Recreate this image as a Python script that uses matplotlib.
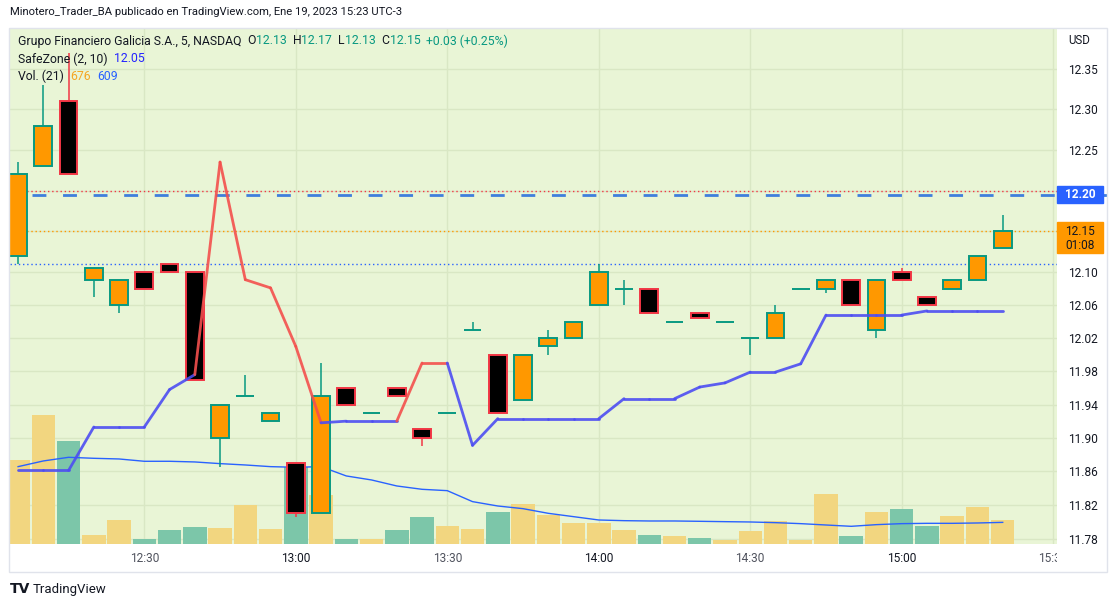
# Grupo Financiero Galicia (GGAL), velas de 5 minutos, estilo captura de TradingView
import matplotlib
matplotlib.use('Agg')
import matplotlib.pyplot as plt
from matplotlib.patches import Rectangle
from matplotlib.ticker import FixedLocator, NullLocator, FormatStrFormatter

plt.rcParams['font.family'] = ['Roboto', 'DejaVu Sans']

# ---- datos ----
times = ['12:05', '12:10', '12:15', '12:20', '12:25', '12:30', '12:35', '12:40',
         '12:45', '12:50', '12:55', '13:00', '13:05', '13:10', '13:15', '13:20',
         '13:25', '13:30', '13:35', '13:40', '13:45', '13:50', '13:55', '14:00',
         '14:05', '14:10', '14:15', '14:20', '14:25', '14:30', '14:35', '14:40',
         '14:45', '14:50', '14:55', '15:00', '15:05', '15:10', '15:15', '15:20']
opens = [12.12, 12.23, 12.31, 12.09, 12.06, 12.10, 12.11, 12.10,
         11.90, 11.95, 11.92, 11.87, 11.81, 11.96, 11.93, 11.96,
         11.91, 11.93, 12.03, 12.00, 11.945, 12.01, 12.02, 12.06,
         12.08, 12.08, 12.04, 12.05, 12.04, 12.02, 12.02, 12.08,
         12.08, 12.09, 12.03, 12.10, 12.07, 12.08, 12.09, 12.13]
highs = [12.235, 12.33, 12.37, 12.105, 12.09, 12.10, 12.11, 12.10,
         11.94, 11.975, 11.93, 11.87, 11.99, 11.96, 11.93, 11.96,
         11.91, 11.93, 12.04, 12.00, 12.00, 12.03, 12.04, 12.11,
         12.09, 12.08, 12.04, 12.05, 12.04, 12.02, 12.06, 12.08,
         12.09, 12.09, 12.09, 12.105, 12.07, 12.09, 12.12, 12.17]
lows = [12.11, 12.23, 12.22, 12.07, 12.05, 12.08, 12.10, 11.97,
        11.865, 11.95, 11.92, 11.805, 11.81, 11.94, 11.93, 11.95,
        11.89, 11.93, 12.03, 11.93, 11.945, 12.00, 12.02, 12.06,
        12.06, 12.05, 12.04, 12.045, 12.04, 12.00, 12.02, 12.08,
        12.075, 12.06, 12.02, 12.09, 12.06, 12.08, 12.09, 12.13]
closes = [12.22, 12.28, 12.22, 12.105, 12.09, 12.08, 12.10, 11.97,
          11.94, 11.95, 11.93, 11.81, 11.95, 11.94, 11.93, 11.95,
          11.90, 11.93, 12.03, 11.93, 12.00, 12.02, 12.04, 12.10,
          12.08, 12.05, 12.04, 12.045, 12.04, 12.02, 12.05, 12.08,
          12.09, 12.06, 12.09, 12.09, 12.06, 12.09, 12.12, 12.15]
volumes = [2367, 3634, 2902, 254, 676, 141, 394, 479,
           451, 1099, 423, 2179, 1380, 141, 141, 394,
           761, 507, 423, 901, 1127, 817, 592, 592,
           394, 254, 225, 169, 113, 366, 648, 113,
           1409, 225, 901, 986, 507, 789, 1042, 676]
vol_ma = [2178, 2338, 2441, 2413, 2394, 2329, 2329, 2310,
          2263, 2225, 2178, 2160, 2178, 1916, 1803, 1634,
          1540, 1502, 1193, 1070, 995, 864, 770, 676,
          657, 648, 648, 639, 629, 620, 601, 573,
          535, 498, 545, 573, 582, 582, 592, 609]
safezone = [11.861, 11.861, 11.861, 11.913, 11.913, 11.913, 11.958, 11.976,
            12.235, 12.091, 12.081, 12.010, 11.918, 11.920, 11.920, 11.920,
            11.990, 11.990, 11.891, 11.923, 11.923, 11.923, 11.923, 11.923,
            11.947, 11.947, 11.947, 11.961, 11.966, 11.979, 11.979, 11.989,
            12.048, 12.048, 12.048, 12.048, 12.053, 12.053, 12.053, 12.053]
safezone_short = [i in (8, 9, 10, 11, 12, 16, 17) for i in range(len(times))]

time_labels = ['12:30', '13:00', '13:30', '14:00', '14:30', '15:00', '15:30']
price_labels = [11.78, 11.82, 11.86, 11.90, 11.94, 11.98, 12.02, 12.06, 12.10,
                12.25, 12.30, 12.35]
grid_levels = price_labels + [12.15, 12.20]
ray_price = 12.195      # linea horizontal dibujada (etiqueta 12.20)
ray_start = 0.55
last_price = 12.15
prev_close_dot = 12.20
blue_dot = 12.11

# ---- colores ----
BG = '#e9f5d6'
GRID = '#d9e7c4'
UP_FACE, UP_EDGE = '#ff9800', '#089981'
DN_FACE, DN_EDGE = '#000000', '#f23645'
VOL_UP, VOL_DN = '#f2d680', '#7cc6a9'
TXT = '#131722'
TEAL = '#089981'

W, H = 1117, 607


def fx(px):
    return px / W


def fy(py):
    return 1 - py / H


def minutos(t):
    h, m = t.split(':')
    return int(h) * 60 + int(m)


t0 = minutos(times[0])
x = [(minutos(t) - t0) / 5 for t in times]
tick_x = [(minutos(t) - t0) / 5 for t in time_labels]

fig = plt.figure(figsize=(W / 100, H / 100), dpi=100)
pos = [fx(10), fy(544), fx(1057) - fx(10), fy(29) - fy(544)]
xlim = (-0.32, 41.15)
ylim = (11.7735, 12.400)

# capa de fondo: grilla
ax_bg = fig.add_axes(pos)
ax_bg.set_facecolor(BG)
ax_bg.set_yscale('log')
ax_bg.set_xlim(*xlim)
ax_bg.set_ylim(*ylim)
ax_bg.yaxis.set_major_locator(FixedLocator(grid_levels))
ax_bg.yaxis.set_minor_locator(NullLocator())
ax_bg.xaxis.set_major_locator(FixedLocator(tick_x))
ax_bg.grid(True, color=GRID, lw=1)
ax_bg.tick_params(length=0, labelleft=False, labelbottom=False)
for s in ax_bg.spines.values():
    s.set_visible(False)

# capa de volumen
ax_vol = fig.add_axes(pos, sharex=ax_bg)
ax_vol.patch.set_alpha(0)
vcol = [VOL_UP if c >= o else VOL_DN for o, c in zip(opens, closes)]
ax_vol.bar(x, volumes, width=0.93, color=vcol, linewidth=0)
ax_vol.plot(x, vol_ma, color='#2962ff', lw=1)
ax_vol.set_ylim(0, 14500)
ax_vol.axis('off')

# capa de precio
ax = fig.add_axes(pos, sharex=ax_bg)
ax.patch.set_alpha(0)
ax.set_yscale('log')

up = [c >= o for o, c in zip(opens, closes)]
face = [UP_FACE if u else DN_FACE for u in up]
edge = [UP_EDGE if u else DN_EDGE for u in up]
bottoms = [min(o, c) for o, c in zip(opens, closes)]
heights = [abs(c - o) for o, c in zip(opens, closes)]
ax.vlines(x, lows, highs, colors=edge, lw=1.1, zorder=3)
ax.bar(x, heights, width=0.7, bottom=bottoms, color=face, edgecolor=edge,
       linewidth=1.4, zorder=4)

for i in range(1, len(x)):
    col = '#f4504d' if safezone_short[i] else '#4d4df2'
    ax.plot([x[i - 1], x[i]], [safezone[i - 1], safezone[i]], color=col,
            lw=2, alpha=0.9, solid_capstyle='round', zorder=5)

ax.axhline(prev_close_dot, color='#f23645', lw=1, ls=(0, (1, 2)), zorder=2)
ax.axhline(last_price, color='#ff9800', lw=1, ls=(0, (1, 2)), zorder=2)
ax.axhline(blue_dot, color='#2962ff', lw=1, ls=(0, (1, 2)), zorder=2)
ax.plot([ray_start, xlim[1] + 2], [ray_price, ray_price], color='#3f7fdc', lw=2,
        ls=(0, (5, 6)), zorder=2, clip_on=False)

ax.set_xlim(*xlim)
ax.set_ylim(*ylim)
ax.yaxis.tick_right()
ax.yaxis.set_major_locator(FixedLocator(price_labels))
ax.yaxis.set_minor_locator(NullLocator())
ax.yaxis.set_major_formatter(FormatStrFormatter('%.2f'))
ax.set_xticks(tick_x, time_labels)
ax.tick_params(axis='y', length=0, pad=8, labelsize=8.6, labelcolor=TXT)
ax.tick_params(axis='x', length=0, pad=6, labelsize=8.6)
for lbl in ax.get_xticklabels():
    # las horas en punto se ven mas oscuras
    lbl.set_color(TXT if lbl.get_text().endswith(':00') else '#50535e')
for s in ax.spines.values():
    s.set_visible(False)

# la ultima hora queda cortada por la escala de precios
clip = Rectangle((0, 0), fx(1057), 1, transform=fig.transFigure)
lbl = ax.get_xticklabels()[-1]
lbl.set_clip_on(True)
lbl.set_clip_path(clip)

# marco
fig.add_artist(Rectangle((fx(9), fy(572)), fx(1107) - fx(9), fy(28) - fy(572),
                         transform=fig.transFigure, fill=False,
                         edgecolor='#e0e3eb', lw=1))


# etiquetas de precio en la escala
def py_of(price):
    return H - ax.transData.transform((0, price))[1]


yr = py_of(ray_price)
fig.add_artist(Rectangle((fx(1057), fy(yr + 8.5)), fx(46), 17 / H,
                         transform=fig.transFigure, color='#2962ff'))
fig.text(fx(1080), fy(yr), '12.20', color='white', fontsize=8.6,
         fontweight='bold', ha='center', va='center')
yl = py_of(last_price)
fig.add_artist(Rectangle((fx(1057), fy(yl + 22)), fx(46), 31 / H,
                         transform=fig.transFigure, color='#ff9800'))
fig.text(fx(1080), fy(yl), f'{last_price:.2f}', color=TXT, fontsize=8.6,
         ha='center', va='center')
fig.text(fx(1080), fy(yl + 14), '01:08', color=TXT, fontsize=8.6,
         ha='center', va='center')
fig.text(fx(1068), fy(41), 'USD', color=TXT, fontsize=8.3, va='center')

# textos superiores
fig.text(fx(10), fy(12), 'Minotero_Trader_BA publicado en TradingView.com, '
         'Ene 19, 2023 15:23 UTC-3', color=TXT, fontsize=8.1, va='center')


def fila(px, py, partes, size=8.8):
    t = fig.text(fx(px), fy(py), partes[0][0], color=partes[0][1],
                 fontsize=size, va='center')
    for texto, col, gap in partes[1:]:
        t = ax.annotate(texto, xy=(1, 0.5), xycoords=t, xytext=(gap, 0),
                        textcoords='offset points', color=col, fontsize=size,
                        va='center', ha='left', annotation_clip=False)


fila(18, 41, [('Grupo Financiero Galicia S.A., 5, NASDAQ', TXT),
              ('O', TXT, 4), ('12.13', TEAL, 0), ('H', TXT, 4.5), ('12.17', TEAL, 0),
              ('L', TXT, 4.5), ('12.13', TEAL, 0), ('C', TXT, 4.5), ('12.15', TEAL, 0),
              ('+0.03 (+0.25%)', TEAL, 4)])
fila(18, 59, [('SafeZone (2, 10)', TXT), ('12.05', '#2424ff', 4.5)])
fila(18, 76, [('Vol. (21)', TXT), ('676', '#f5a623', 4.5), ('609', '#2962ff', 4.5)])

# logo inferior
fig.text(fx(10), fy(589), 'TV', color=TXT, fontsize=10, fontweight='heavy',
         family='DejaVu Sans', va='center')
fig.text(fx(33), fy(589), 'TradingView', color=TXT, fontsize=9.5, va='center')

fig.savefig('out.png', dpi=100)
